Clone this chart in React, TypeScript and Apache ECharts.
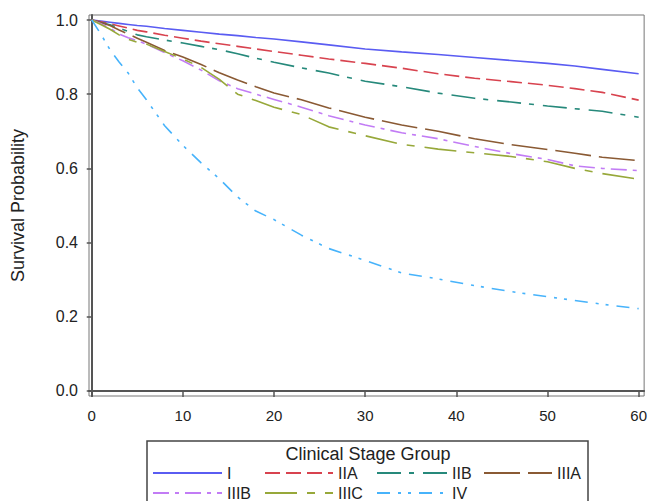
import React, { useEffect, useRef } from "react";
import * as echarts from "echarts";

const months = [0, 1, 2, 3, 4, 5, 6, 8, 10, 12, 14, 16, 18, 20, 23, 26, 30, 34, 38, 42, 46, 50, 53, 56, 60];

const stageI = [1, 0.997, 0.994, 0.991, 0.988, 0.985, 0.983, 0.977, 0.972, 0.967, 0.962, 0.958, 0.953, 0.949, 0.941, 0.933, 0.922, 0.914, 0.907, 0.899, 0.891, 0.883, 0.876, 0.867, 0.855];
const stageIIA = [1, 0.995, 0.99, 0.984, 0.978, 0.972, 0.968, 0.959, 0.951, 0.943, 0.936, 0.929, 0.922, 0.915, 0.905, 0.895, 0.883, 0.87, 0.855, 0.843, 0.834, 0.824, 0.815, 0.805, 0.784];
const stageIIB = [1, 0.993, 0.987, 0.978, 0.969, 0.96, 0.955, 0.946, 0.938, 0.929, 0.92, 0.909, 0.897, 0.886, 0.871, 0.857, 0.835, 0.82, 0.803, 0.789, 0.779, 0.768, 0.761, 0.754, 0.738];
const stageIIIA = [1, 0.993, 0.985, 0.973, 0.962, 0.951, 0.94, 0.918, 0.9, 0.88, 0.858, 0.838, 0.82, 0.803, 0.785, 0.763, 0.738, 0.717, 0.7, 0.68, 0.664, 0.651, 0.641, 0.63, 0.621];
const stageIIIB = [1, 0.99, 0.978, 0.962, 0.952, 0.944, 0.935, 0.912, 0.89, 0.865, 0.836, 0.815, 0.8, 0.786, 0.765, 0.742, 0.717, 0.696, 0.68, 0.659, 0.64, 0.624, 0.607, 0.6, 0.594];
const stageIIIC = [1, 0.988, 0.975, 0.96, 0.948, 0.94, 0.935, 0.915, 0.895, 0.872, 0.84, 0.8, 0.783, 0.765, 0.745, 0.712, 0.688, 0.665, 0.652, 0.642, 0.632, 0.618, 0.6, 0.586, 0.571];
const stageIV = [1, 0.962, 0.92, 0.887, 0.857, 0.817, 0.785, 0.715, 0.662, 0.615, 0.572, 0.523, 0.485, 0.462, 0.42, 0.384, 0.352, 0.318, 0.302, 0.284, 0.268, 0.254, 0.244, 0.234, 0.222];

const stageNames = ["I", "IIA", "IIB", "IIIA", "IIIB", "IIIC", "IV"];
const xTicks = [0, 10, 20, 30, 40, 50, 60];
const yTicks = [0, 0.2, 0.4, 0.6, 0.8, 1.0];

const FONT = "'Liberation Sans', Arial, sans-serif";

const styles: Record<string, { color: string; dash: any }> = {
  I: { color: "#5a5cf2", dash: "solid" },
  IIA: { color: "#d8434f", dash: [15, 6] },
  IIB: { color: "#26897b", dash: [24, 8, 5, 9] },
  IIIA: { color: "#8a5a34", dash: [36, 8] },
  IIIB: { color: "#c27cf5", dash: [16, 6, 4, 6] },
  IIIC: { color: "#97a83a", dash: [32, 10, 8, 10] },
  IV: { color: "#47b3fb", dash: [13, 8, 3, 7, 3, 8] },
};

const values: Record<string, number[]> = {
  I: stageI,
  IIA: stageIIA,
  IIB: stageIIB,
  IIIA: stageIIIA,
  IIIB: stageIIIB,
  IIIC: stageIIIC,
  IV: stageIV,
};

export default function App() {
  const ref = useRef<HTMLDivElement>(null);
  useEffect(() => {
    if (!ref.current) return;
    const chart = echarts.init(ref.current, undefined, { renderer: "svg" });
    const series = stageNames.map((n) => ({
      name: n,
      type: "line",
      showSymbol: false,
      symbol: "none",
      data: months.map((m, i) => [m, values[n][i]]),
      lineStyle: { color: styles[n].color, width: 1.6, type: styles[n].dash },
      itemStyle: { color: styles[n].color },
    }));
    const legendCol = (left: number, data: string[], w: number) => ({
      orient: "vertical",
      left,
      top: 465,
      height: 70,
      padding: 0,
      itemWidth: w,
      itemHeight: 16,
      itemGap: 4,
      data,
      selectedMode: false,
      itemStyle: { opacity: 0 },
      textStyle: { fontFamily: FONT, fontSize: 16, lineHeight: 16, color: "#222" },
    });
    chart.setOption({
      animation: false,
      backgroundColor: "#fff",
      grid: {
        left: 89,
        right: 5,
        top: 15,
        bottom: 105,
        show: true,
        borderColor: "#777",
        borderWidth: 1,
        containLabel: false,
      },
      xAxis: {
        type: "value",
        min: -0.3,
        max: 60.6,
        axisLine: { show: true, lineStyle: { color: "#555", width: 2 } },
        axisTick: { show: true, customValues: xTicks, length: 6, lineStyle: { color: "#555", width: 1.5 } },
        axisLabel: {
          customValues: xTicks,
          fontFamily: FONT,
          fontSize: 15,
          color: "#222",
          margin: 12,
        },
        splitLine: { show: false },
      },
      yAxis: {
        type: "value",
        min: -0.0135,
        max: 1.0135,
        name: "Survival Probability",
        nameLocation: "middle",
        nameGap: 62,
        nameTextStyle: { fontFamily: FONT, fontSize: 18, color: "#222" },
        axisLine: { show: true, lineStyle: { color: "#555", width: 2 } },
        axisTick: { show: true, customValues: yTicks, length: 5, lineStyle: { color: "#555", width: 1.5 } },
        axisLabel: {
          customValues: yTicks,
          formatter: (v: number) => v.toFixed(1),
          fontFamily: FONT,
          fontSize: 16,
          color: "#222",
          margin: 11,
        },
        splitLine: { show: false },
      },
      legend: [
        legendCol(152, ["I", "IIIB"], 69),
        legendCol(264, ["IIA", "IIIC"], 68),
        legendCol(376, ["IIB", "IV"], 70),
        legendCol(483, ["IIIA"], 68),
      ],
      graphic: [
        {
          type: "rect",
          shape: { x: 147, y: 441, width: 441, height: 80 },
          style: { fill: "none", stroke: "#444", lineWidth: 1.5 },
          silent: true,
        },
        {
          type: "text",
          x: 368,
          y: 454,
          style: {
            text: "Clinical Stage Group",
            fontFamily: FONT,
            fontSize: 18,
            fill: "#222",
            textAlign: "center",
            textVerticalAlign: "middle",
          },
          silent: true,
        },
      ],
      series,
    });
    return () => chart.dispose();
  }, []);
  return <div ref={ref} style={{ width: 650, height: 501, position: "absolute", left: 0, top: 0 }} />;
}
